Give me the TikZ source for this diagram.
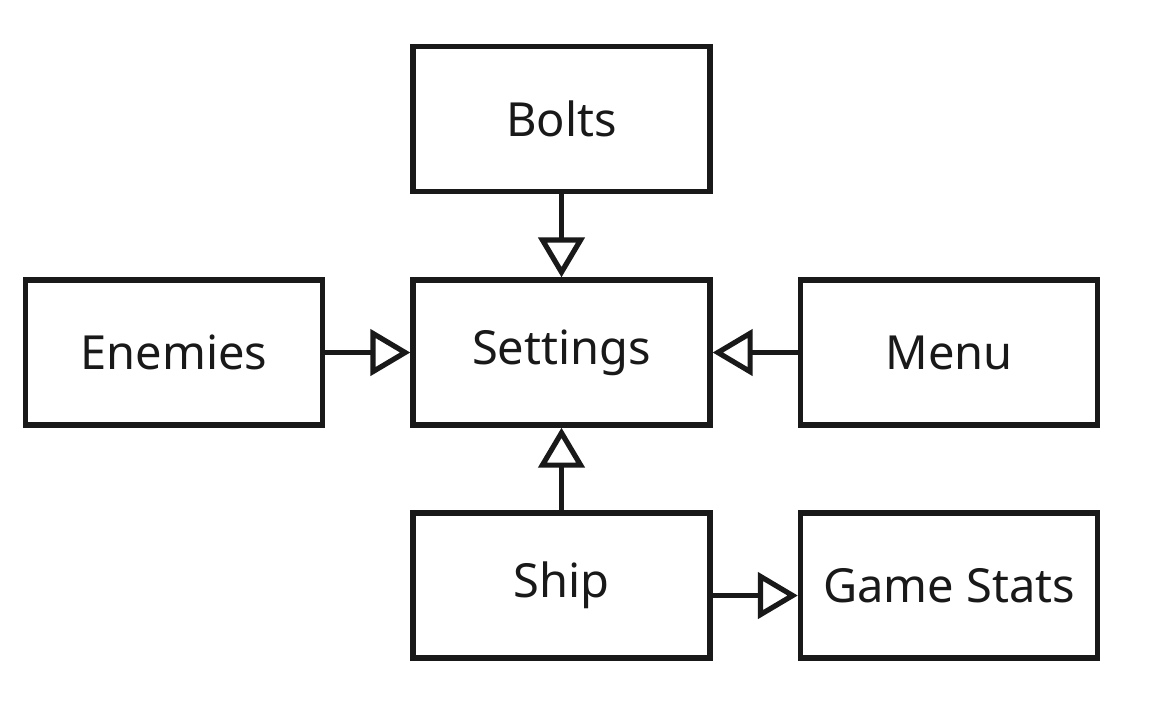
\documentclass[tikz,border=0pt]{standalone}
\usepackage{fontspec}
\setmainfont{Noto Sans}
\usetikzlibrary{arrows.meta}

\begin{document}
\begin{tikzpicture}[x=0.5pt, y=-0.5pt]
    \tikzstyle{class box} = [rectangle,draw=black!90,line width=2.7pt,minimum width=148.5pt,minimum height=72.5pt,inner sep=0pt,text=black!90,font=\fontsize{23.5}{28}\selectfont]
    \tikzstyle{class edge} = [draw=black!90,line width=2.6pt]
    \tikzstyle{class edge inherit} = [class edge, -{Triangle[open,width=23pt,length=20pt]}]
\useasboundingbox (0,0) rectangle (1165,720);
\node[class box] (bolts) at (561.5, 119) {Bolts};
\node[class box] (settings) at (561.5, 352.5) {Settings};
\node[class box] (enemies) at (174, 352.5) {Enemies};
\node[class box] (menu) at (949, 352.5) {Menu};
\node[class box] (ship) at (561.5, 585.5) {Ship};
\node[class box] (stats) at (949, 585.5) {Game Stats};
\draw[class edge inherit] (bolts) to (settings);
\draw[class edge inherit] (enemies) to (settings);
\draw[class edge inherit] (menu) to (settings);
\draw[class edge inherit] (ship) to (settings);
\draw[class edge inherit] ([yshift=-5pt]ship.east) to ([yshift=-5pt]stats.west);
\end{tikzpicture}
\end{document}
